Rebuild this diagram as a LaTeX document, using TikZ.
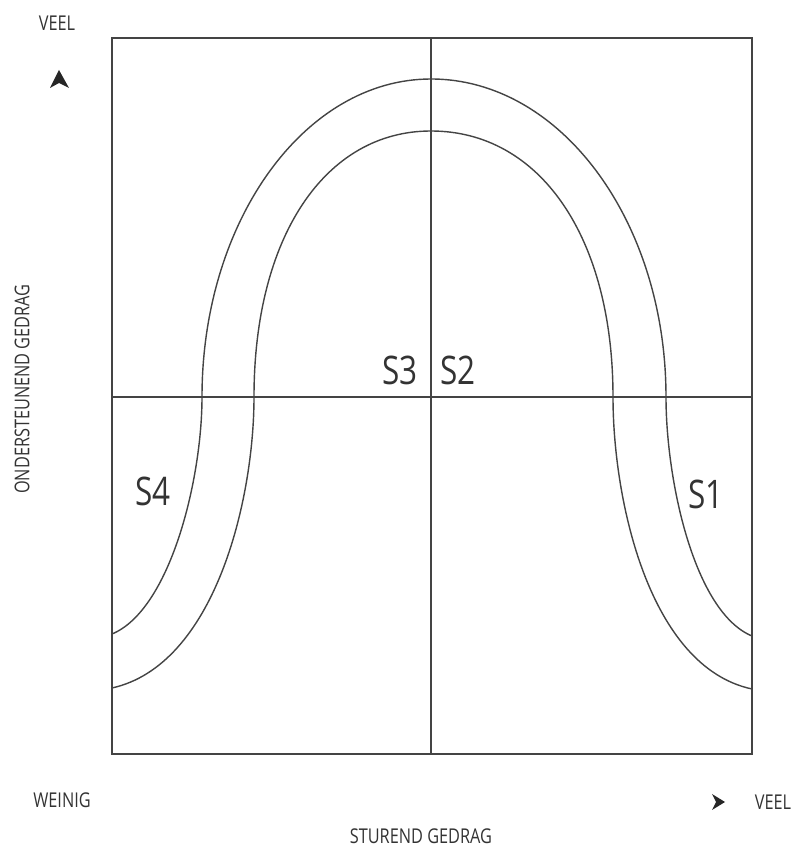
\documentclass[tikz,border=0pt]{standalone}
\usepackage{fontspec}
\setmainfont{Open Sans}[FakeStretch=0.8]
\definecolor{ink}{HTML}{333333}
\definecolor{rule}{HTML}{444444}
\begin{document}
\begin{tikzpicture}[x=1cm,y=1cm,
  frame/.style={draw=rule, line width=1pt},
  curve/.style={draw=rule, line width=1pt},
  axis/.style={text=ink, font=\fontsize{14.5}{16}\selectfont, inner sep=0pt},
  style/.style={text=ink, font=\fontsize{28}{30}\selectfont, inner sep=0pt},
  tip/.style={fill=black!85, draw=none},
  ]
  \useasboundingbox (0,0) rectangle (19.8,21.175);
  % ---- frame and quadrants -------------------------------------------------
  \draw[frame] (2.8,2.325) rectangle (18.8,20.225);
  \draw[frame] (10.775,2.325) -- (10.775,20.225);
  \draw[frame] (2.8,11.25) -- (18.8,11.25);
  % ---- outer curve ---------------------------------------------------------
  \draw[curve] (2.8,5.325) .. controls (4.25,5.925) and (5.05,9.175) .. (5.05,11.25)
    .. controls (5.05,15.64) and (7.61,19.2) .. (10.775,19.2)
    .. controls (14.02,19.2) and (16.65,15.64) .. (16.65,11.25)
    .. controls (16.65,9.175) and (17.35,5.875) .. (18.8,5.275);
  % ---- inner curve ---------------------------------------------------------
  \draw[curve] (2.8,3.975) .. controls (5.375,4.55) and (6.35,8.675) .. (6.35,11.25)
    .. controls (6.35,15.25) and (8.125,17.9) .. (10.775,17.9)
    .. controls (13.5,17.9) and (15.325,15.25) .. (15.325,11.25)
    .. controls (15.325,8.675) and (16.225,4.5) .. (18.8,3.95);
  % ---- styles --------------------------------------------------------------
  \node[style] (s3) at (10.0,11.925) {S3};
  \node[style] (s2) at (11.45,11.925) {S2};
  \node[style] (s4) at (3.825,8.9) {S4};
  \node[style] (s1) at (17.65,8.825) {S1};
  % ---- axes ----------------------------------------------------------------
  \node[axis] (yveel) at (1.425,20.6) {VEEL};
  \fill[tip] (1.475,19.425) -- (1.725,18.975) -- (1.475,19.1) -- (1.25,18.975) -- cycle;
  \node[axis, rotate=90] (ylabel) at (0.55,11.45) {ONDERSTEUNEND GEDRAG};
  \node[axis] (weinig) at (1.55,1.175) {WEINIG};
  \fill[tip] (18.125,1.125) -- (17.8,1.325) -- (17.9,1.125) -- (17.8,0.925) -- cycle;
  \node[axis] (xveel) at (19.325,1.125) {VEEL};
  \node[axis] (xlabel) at (10.525,0.275) {STUREND GEDRAG};
\end{tikzpicture}
\end{document}
